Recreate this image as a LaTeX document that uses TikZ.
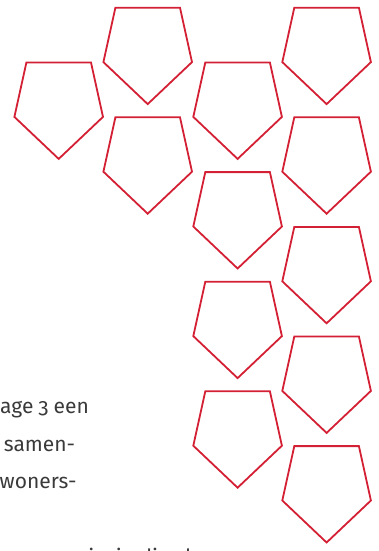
\documentclass[tikz,border=0pt]{standalone}
\usepackage{fontspec}
\setmainfont[Numbers={OldStyle,Proportional}]{Fira Sans}
\definecolor{shieldred}{RGB}{212,32,52}
\definecolor{textgray}{RGB}{58,58,58}
\tikzset{
  shieldline/.style={draw=shieldred, line width=1.8pt, line join=miter},
  shield/.pic={\path[shieldline] (-32.3,0) -- (32.3,0) -- (44.3,54.4) -- (0,96.4) -- (-44.3,54.4) -- cycle;},
  bodytext/.style={anchor=base west, inner sep=0pt, text=textgray, font=\fontsize{21}{25}\selectfont}
}
\begin{document}
\begin{tikzpicture}[x=1pt,y=-1pt]
\useasboundingbox (0,0) rectangle (379,551);
\clip (0,0) rectangle (379,551);
% column A
\pic (sa1) at (58.7,62.5) {shield};
% column B
\pic (sb1) at (147.7,7.7) {shield};
\pic (sb2) at (147.7,117.3) {shield};
% column C
\pic (sc1) at (237.6,62.5) {shield};
\pic (sc2) at (237.6,172.1) {shield};
\pic (sc3) at (237.6,281.7) {shield};
\pic (sc4) at (237.6,391.3) {shield};
% column D
\pic (sd1) at (326.6,7.7) {shield};
\pic (sd2) at (326.6,117.3) {shield};
\pic (sd3) at (326.6,226.9) {shield};
\pic (sd4) at (326.6,336.5) {shield};
\pic (sd5) at (326.6,446.1) {shield};
% text
\node[bodytext] (t1) at (0,413.5) {\spaceskip=5pt age 3 een};
\node[bodytext] (t2) at (3.7,451) {samen-};
\node[bodytext] (t3) at (-0.5,488) {woners-};
\node[bodytext] (t4) at (-55,564) {samen wonen\hspace{6pt} is\hspace{6pt} in die\hspace{10pt} buren};
\end{tikzpicture}
\end{document}
